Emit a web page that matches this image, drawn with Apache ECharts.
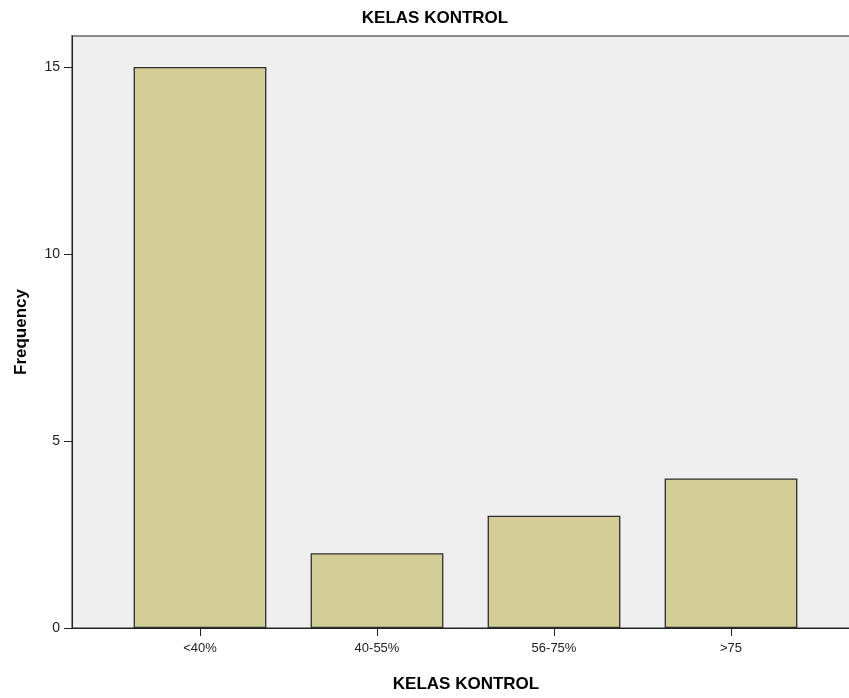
<!DOCTYPE html>
<html>
<head>
<meta charset="utf-8">
<script src="https://cdn.jsdelivr.net/npm/echarts@6/dist/echarts.min.js"></script>
<style>
  html, body { margin: 0; padding: 0; background: #fff; }
  #chart { width: 849px; height: 698px; }
</style>
</head>
<body>
<div id="chart"></div>
<script>
// data
var categories = ['<40%', '40-55%', '56-75%', '>75'];
var frequency = [15, 2, 3, 4];
var yTicks = [0, 5, 10, 15];

var font = 'Liberation Sans, Arial, sans-serif';
var plotTop = 36, plotHeight = 592, yMax = 15.83;

var chart = echarts.init(document.getElementById('chart'));

var option = {
    animation: false,
    title: {
        text: 'KELAS KONTROL',
        left: 430,
        textAlign: 'center',
        top: 5,
        textStyle: { fontFamily: font, fontSize: 17, fontWeight: 'bold', color: '#000' }
    },
    grid: [
        // background / frame grid
        { left: 72, top: plotTop, width: 788, height: plotHeight, show: true, outerBoundsMode: 'none',
          backgroundColor: '#efefef', borderColor: '#8a8a8a', borderWidth: 2 },
        // bars grid
        { left: 111.5, top: plotTop, width: 708, height: plotHeight, outerBoundsMode: 'none' }
    ],
    xAxis: [
        { gridIndex: 0, type: 'value', min: 0, max: 1,
          name: 'KELAS KONTROL', nameLocation: 'middle', nameGap: 48,
          nameTextStyle: { fontFamily: font, fontSize: 17, fontWeight: 'bold', color: '#000' },
          axisLine: { show: true, lineStyle: { color: '#222', width: 1 } },
          axisTick: { show: false }, axisLabel: { show: false }, splitLine: { show: false } },
        { gridIndex: 1, type: 'category', data: categories,
          axisLine: { show: false },
          axisTick: { show: true, alignWithLabel: true, length: 8, lineStyle: { color: '#222' } },
          axisLabel: { fontFamily: font, fontSize: 13, color: '#222', margin: 14 } }
    ],
    yAxis: [
        { gridIndex: 0, type: 'value', min: 0, max: yMax,
          name: 'Frequency', nameLocation: 'middle', nameGap: 42, nameRotate: 90,
          nameTextStyle: { fontFamily: font, fontSize: 17, fontWeight: 'bold', color: '#000' },
          axisLine: { show: true, lineStyle: { color: '#222', width: 1 } },
          axisTick: { show: true, length: 8, customValues: yTicks, lineStyle: { color: '#222' } },
          axisLabel: { fontFamily: font, fontSize: 14, color: '#222', margin: 12, customValues: yTicks },
          splitLine: { show: false } },
        { gridIndex: 1, type: 'value', min: 0, max: yMax, show: false }
    ],
    series: [{
        type: 'bar',
        xAxisIndex: 1,
        yAxisIndex: 1,
        data: frequency,
        barCategoryGap: '25%',
        itemStyle: { color: '#d3ce97', borderColor: '#2e2e2e', borderWidth: 1.3 }
    }]
};

chart.setOption(option);
</script>
</body>
</html>
